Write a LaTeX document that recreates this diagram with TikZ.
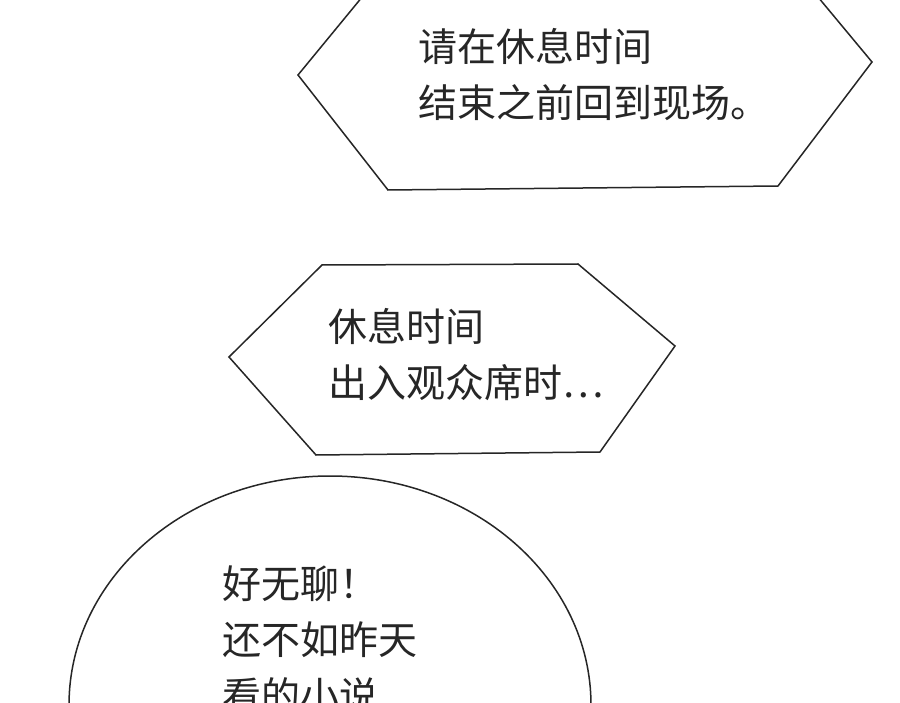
\documentclass[tikz,border=0pt]{standalone}
\usepackage{fontspec}
\newfontfamily\cjk{Noto Sans CJK SC}
\begin{document}
\begin{tikzpicture}[x=1pt,y=-1pt,
  bubble/.style={draw=black!85,line width=1.5pt,fill=white},
  txt/.style={font=\cjk\fontsize{39}{56}\selectfont,anchor=west,align=left,text=black!85,inner sep=0}]
\fill[white] (0,0) rectangle (900,703);
\clip (0,0) rectangle (900,703);
\useasboundingbox (0,0) rectangle (900,703);
\draw[bubble] (298,75) -- (372,-15) -- (808,-15) -- (872,62) -- (778,186) -- (388,190) -- cycle;
\node[txt] (t1) at (418,75) {请在休息时间\\结束之前回到现场。};
\draw[bubble] (229,357) -- (322,265) -- (578,264) -- (675,346) -- (600,452) -- (316,455) -- cycle;
\node[txt] (t2) at (328,355) {休息时间\\出入观众席时…};
\draw[bubble] (330,705) ellipse [x radius=261, y radius=229];
\node[txt] (t3) at (222,640) {好无聊！\\还不如昨天\\看的小说};
\end{tikzpicture}
\end{document}
